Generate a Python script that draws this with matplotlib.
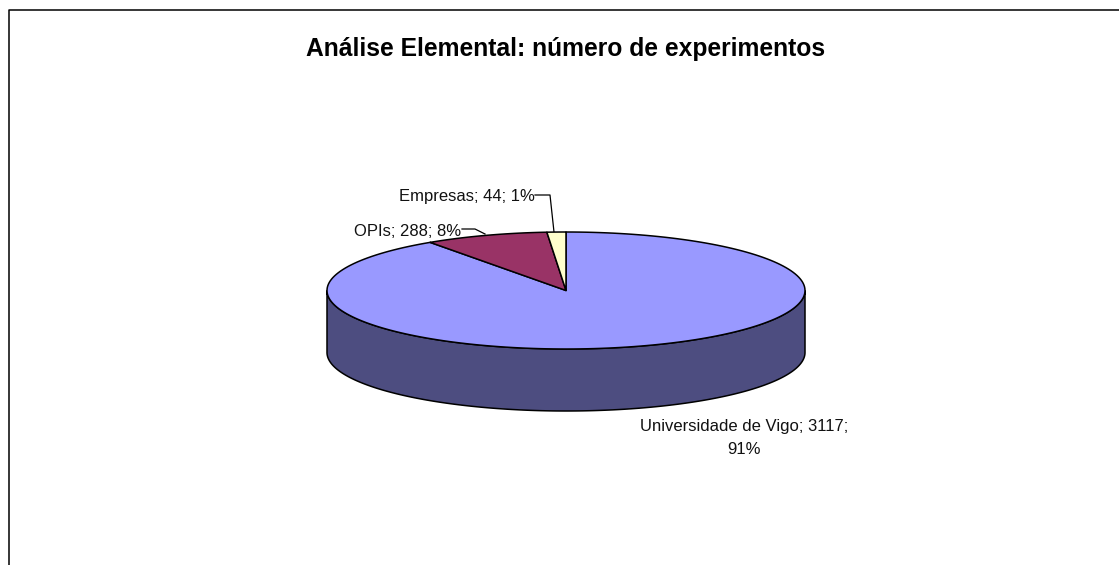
import numpy as np
import matplotlib
matplotlib.use("Agg")
import matplotlib.pyplot as plt

labels = ["Universidade de Vigo", "OPIs", "Empresas"]
values = [3117, 288, 44]
percents = [91, 8, 1]
colors = ["#9999FF", "#993366", "#FFFFCC"]
side_color = "#4D4D80"
title = "Análise Elemental: número de experimentos"

CX, CY = 566, 290.5
RX, RY = 239, 58.5
DEPTH = 62

plt.rcParams["font.family"] = ["Liberation Sans", "DejaVu Sans"]


def rim(t0, t1, n=200):
    """ Points on the top ellipse, angle measured clockwise from 12 o'clock. """
    t = np.linspace(t0, t1, n)
    return CX + RX * np.sin(t), CY - RY * np.cos(t)


fig = plt.figure(figsize=(11.19, 5.65), dpi=100)
ax = fig.add_axes([0, 0, 1, 1])
ax.set_xlim(0, 1119)
ax.set_ylim(565, 0)
ax.axis("off")

# chart frame, only top and left fall inside the picture
ax.plot([8.5, 8.5, 1119], [565, 10, 10], color="black", lw=1.1)

# front wall of the pie
x, y = rim(np.pi / 2, 3 * np.pi / 2)
ax.fill(np.r_[x, x[::-1]], np.r_[y, y[::-1] + DEPTH],
        fc=side_color, ec="black", lw=1.1, zorder=2)

# slices, clockwise from the top
fracs = np.cumsum([0] + values) / sum(values) * 2 * np.pi
for i, color in enumerate(colors):
    x, y = rim(fracs[i], fracs[i + 1])
    ax.fill(np.r_[CX, x], np.r_[CY, y], fc=color, ec="black", lw=1.1,
            joinstyle="round", zorder=3)

ax.text(566, 49, title, fontsize=17.7, fontweight="bold",
        ha="center", va="center")

# data labels
ax.text(744, 426, f"{labels[0]}; {values[0]};", fontsize=12,
        ha="center", va="center", color="#111111")
ax.text(744, 449, f"{percents[0]}%", fontsize=12, ha="center", va="center",
        color="#111111")
ax.text(461, 231, f"{labels[1]}; {values[1]}; {percents[1]}%", fontsize=12,
        ha="right", va="center", color="#111111")
ax.text(535, 197, f"{labels[2]}; {values[2]}; {percents[2]}%", fontsize=12,
        ha="right", va="center", color="#111111")

# leader lines
ax.plot([462, 475, 485], [229, 229, 234], color="black", lw=0.9, zorder=1)
ax.plot([535, 550, 554], [195, 195, 232], color="black", lw=0.9, zorder=1)

fig.savefig("out.png", dpi=100)
